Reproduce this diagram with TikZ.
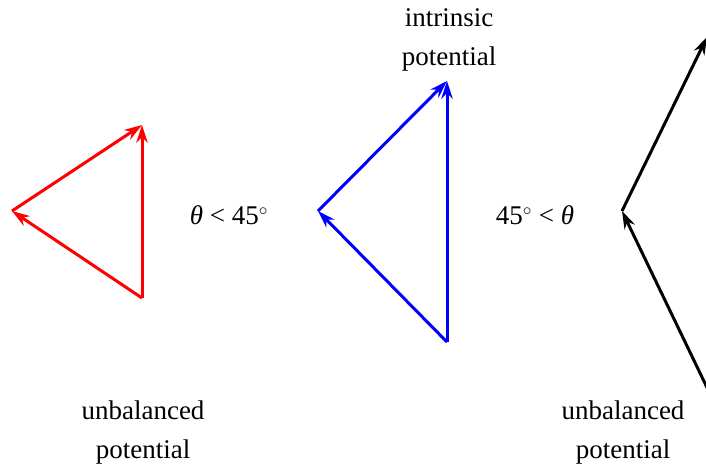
\documentclass[tikz,border=0pt]{standalone}
\usepackage{fontspec}
\setmainfont{Liberation Serif}
\usetikzlibrary{calc}
\newcommand\myvec[3]{%
  \draw[#1,line width=3pt,shorten >=10pt] (#2) -- (#3);
  \fill[#1] ($(#3)!19pt!18:(#2)$) -- (#3) -- ($(#3)!19pt!-18:(#2)$) -- ($(#3)!12pt!(#2)$) -- cycle;}
\begin{document}
\begin{tikzpicture}[x=1pt,y=1pt,
  lbl/.style={font=\fontsize{27}{39}\selectfont,align=center,inner sep=0pt}]
\useasboundingbox (0,0) rectangle (706,-469);
\clip (0,0) rectangle (706,-469);
% red
\coordinate (rl) at (12,-211);
\coordinate (rt) at (142,-125);
\coordinate (rb) at (142,-298);
\myvec{red}{rb}{rl}
\myvec{red}{rl}{rt}
\myvec{red}{rb}{rt}
% blue
\coordinate (bl) at (318,-211);
\coordinate (bt) at (447,-81);
\coordinate (bb) at (447,-342);
\myvec{blue}{bb}{bl}
\myvec{blue}{bl}{bt}
\myvec{blue}{bb}{bt}
% black
\coordinate (kl) at (622,-211);
\coordinate (kt) at (707,-37);
\coordinate (kb) at (713,-400);
\myvec{black}{kb}{kl}
\myvec{black}{kl}{kt}
% labels
\node[lbl] (intr) at (449,-40) {intrinsic\\potential};
\node[lbl] (ub1) at (143,-432) {unbalanced\\potential};
\node[lbl] (ub2) at (623,-432) {unbalanced\\potential};
\node[lbl] (c1) at (229,-215) {\itshape θ\upshape{} < 45$^\circ$};
\node[lbl] (c2) at (535,-215) {45$^\circ$ < \itshape θ};
\end{tikzpicture}
\end{document}
